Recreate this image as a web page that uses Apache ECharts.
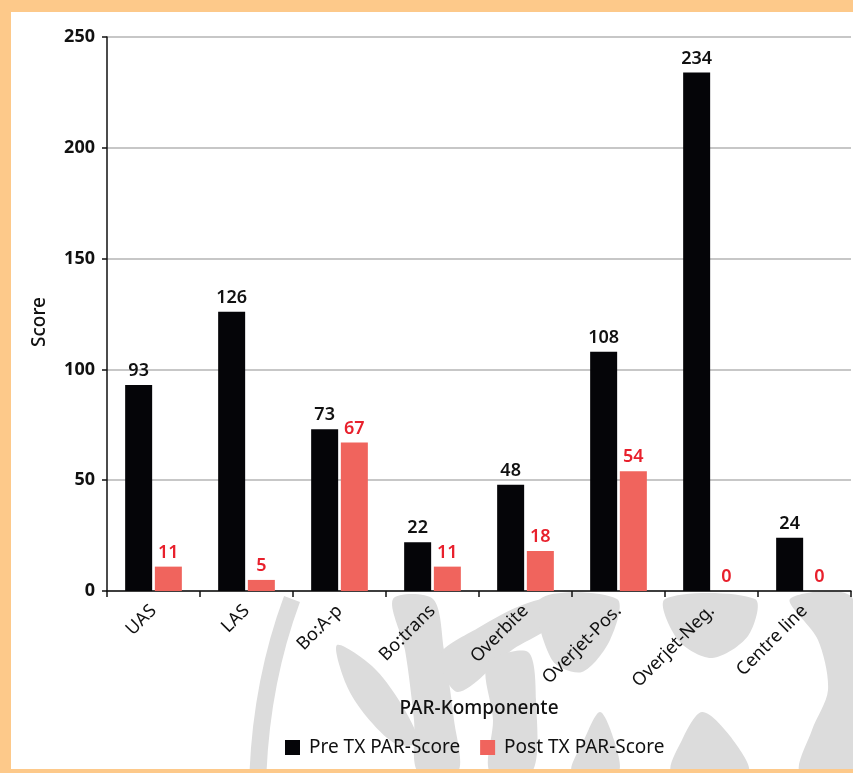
<!DOCTYPE html>
<html>
<head>
<meta charset="utf-8">
<script src="https://cdn.jsdelivr.net/npm/echarts@6/dist/echarts.min.js"></script>
<style>
  html, body { margin: 0; padding: 0; background: #fff; }
  #chart { width: 853px; height: 773px; }
</style>
</head>
<body>
<div id="chart"></div>
<script>
// PAR component scores before and after treatment
const categories = ['UAS', 'LAS', 'Bo:A-p', 'Bo:trans', 'Overbite', 'Overjet-Pos.', 'Overjet-Neg.', 'Centre line'];
const preScores = [93, 126, 73, 22, 48, 108, 234, 24];
const postScores = [11, 5, 67, 11, 18, 54, 0, 0];
const yTicks = [0, 50, 100, 150, 200, 250];

const FONT = '"Noto Sans", "Open Sans", sans-serif';
const ORANGE = '#fdc98a';
const SHADE = '#dcdcdc';

// decorative plant silhouette drawn under the category labels
const stems = [
  { x1: 258, y1: 772, cpx1: 262, cpy1: 680, x2: 292, y2: 599, lw: 17 }
];
const leaves = [
  // leaf reaching left from the first trunk
  [[337, 645], [372, 666], [400, 702], [418, 742], [396, 744], [366, 716], [346, 684]],
  // first trunk
  [[393, 599], [433, 599], [444, 650], [454, 720], [458, 772], [418, 772], [414, 720], [405, 650]],
  // branch curving up to the right
  [[440, 655], [478, 628], [520, 606], [552, 599], [556, 622], [512, 650], [458, 692]],
  // second trunk
  [[487, 664], [528, 652], [536, 700], [532, 772], [490, 772], [493, 720]],
  // crown pieces
  [[540, 599], [617, 599], [610, 640], [582, 672], [552, 660]],
  [[665, 599], [755, 599], [748, 636], [712, 658], [678, 640]],
  // small leaves near the bottom
  [[600, 712], [614, 740], [618, 772], [572, 772], [584, 740]],
  [[702, 712], [730, 736], [748, 772], [672, 772], [682, 740]],
  // trunk at the right edge
  [[790, 599], [853, 599], [853, 772], [800, 772], [812, 730], [828, 690], [818, 640]]
];

const graphics = [];
stems.forEach(s => graphics.push({
  type: 'bezierCurve', z: 0, silent: true,
  shape: { x1: s.x1, y1: s.y1, cpx1: s.cpx1, cpy1: s.cpy1, x2: s.x2, y2: s.y2 },
  style: { stroke: SHADE, lineWidth: s.lw, fill: null, lineCap: 'butt' }
}));
leaves.forEach(pts => graphics.push({
  type: 'polygon', z: 0, silent: true,
  shape: { points: pts, smooth: 0.3 },
  style: { fill: SHADE }
}));
// frame bands
graphics.push({ type: 'rect', shape: { x: 0, y: 0, width: 853, height: 12 }, z: 100, silent: true, style: { fill: ORANGE } });
graphics.push({ type: 'rect', shape: { x: 0, y: 0, width: 11, height: 773 }, z: 100, silent: true, style: { fill: ORANGE } });
graphics.push({ type: 'rect', shape: { x: 0, y: 769, width: 853, height: 4 }, z: 100, silent: true, style: { fill: ORANGE } });

const chart = echarts.init(document.getElementById('chart'), null, { renderer: 'canvas' });

const valueLabel = (color) => ({
  show: true,
  position: 'top',
  distance: 5,
  color: color,
  fontFamily: FONT,
  fontSize: 18,
  fontWeight: 600
});

chart.setOption({
  backgroundColor: '#fff',
  animation: false,
  textStyle: { fontFamily: FONT },
  graphic: graphics,
  grid: { left: 107, right: 2, top: 37, bottom: 182, containLabel: false },
  legend: {
    top: 733,
    left: 280,
    itemWidth: 15,
    itemHeight: 15,
    itemGap: 20,
    icon: 'rect',
    textStyle: { fontFamily: FONT, fontSize: 19, color: '#111', padding: [0, 0, 0, 4] },
    data: ['Pre TX PAR-Score', 'Post TX PAR-Score']
  },
  xAxis: {
    type: 'category',
    data: categories,
    name: 'PAR-Komponente',
    nameLocation: 'middle',
    nameGap: 108,
    nameTextStyle: { fontFamily: FONT, fontSize: 19, color: '#111', fontWeight: 500 },
    axisLine: { lineStyle: { color: '#111', width: 1.5 } },
    axisTick: { show: true, length: 6, lineStyle: { color: '#111', width: 1.5 } },
    axisLabel: { rotate: 45, margin: 17, fontFamily: FONT, fontSize: 18, color: '#111', interval: 0 }
  },
  yAxis: {
    type: 'value',
    min: yTicks[0],
    max: yTicks[yTicks.length - 1],
    interval: yTicks[1] - yTicks[0],
    name: 'Score',
    nameLocation: 'middle',
    nameGap: 58,
    nameTextStyle: { fontFamily: FONT, fontSize: 19, color: '#111', fontWeight: 500, padding: [0, 0, 0, -16] },
    axisLine: { show: true, lineStyle: { color: '#111', width: 1.5 } },
    axisTick: { show: true, length: 5, lineStyle: { color: '#111', width: 1.5 } },
    axisLabel: { margin: 12, fontFamily: FONT, fontSize: 18, fontWeight: 'bold', color: '#111' },
    splitLine: { lineStyle: { color: '#b4b4b4', width: 1.5 } }
  },
  series: [
    {
      name: 'Pre TX PAR-Score',
      type: 'bar',
      data: preScores,
      barWidth: 27,
      barGap: '10%',
      itemStyle: { color: '#050508' },
      label: valueLabel('#111')
    },
    {
      name: 'Post TX PAR-Score',
      type: 'bar',
      data: postScores,
      barWidth: 27,
      itemStyle: { color: '#f0645d' },
      label: valueLabel('#e8202c')
    }
  ]
});
</script>
</body>
</html>
